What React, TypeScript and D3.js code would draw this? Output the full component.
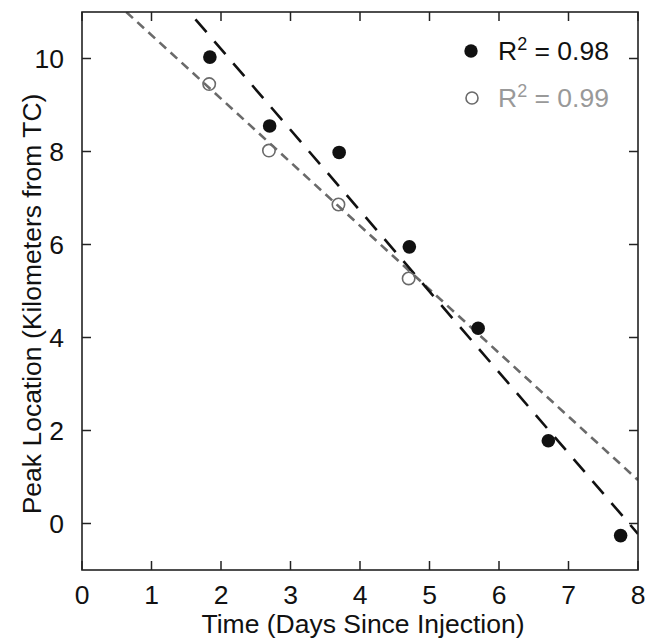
import React from "react";
import * as d3 from "d3";

const filledX = [1.84, 2.7, 3.7, 4.71, 5.7, 6.71, 7.75];
const filledY = [10.03, 8.55, 7.98, 5.95, 4.2, 1.78, -0.26];
const openX = [1.83, 2.69, 3.69, 4.7];
const openY = [9.45, 8.02, 6.86, 5.27];
const fitSlopes = [-1.738, -1.367];
const fitIntercepts = [13.68, 11.87];
const xTicks = [0, 1, 2, 3, 4, 5, 6, 7, 8];
const yTicks = [0, 2, 4, 6, 8, 10];
const legendValues = ["0.98", "0.99"];

const W = 660;
const H = 639;
const L = 82, R = 638, T = 12, B = 570;
const FONT = "'Liberation Sans', Arial, Helvetica, sans-serif";

export default function App() {
  const x = d3.scaleLinear().domain([0, 8]).range([L, R]);
  const y = d3.scaleLinear().domain([-1, 11]).range([B, T]);
  const tick = 9;
  const fs = 26.5;

  const lineGen = d3
    .line<number>()
    .x((d) => x(d))
    .y((d) => 0);

  const fitPath = (i: number) => {
    const xs = [0, 8];
    return d3
      .line<number>()
      .x((d) => x(d))
      .y((d) => y(fitIntercepts[i] + fitSlopes[i] * d))(xs) as string;
  };
  void lineGen;

  const filled = filledX.map((v, i) => [v, filledY[i]]);
  const open = openX.map((v, i) => [v, openY[i]]);

  return (
    <svg
      width={W}
      height={H}
      style={{ position: "absolute", left: 0, top: 0, background: "#fff" }}
      fontFamily={FONT}
    >
      <defs>
        <clipPath id="plotclip">
          <rect x={L} y={T} width={R - L} height={B - T} />
        </clipPath>
      </defs>
      <rect x={0} y={0} width={W} height={H} fill="#fff" />

      {/* fit lines */}
      <g clipPath="url(#plotclip)">
        <path
          d={fitPath(1)}
          fill="none"
          stroke="#6a6a6a"
          strokeWidth={2.6}
          strokeDasharray="9 6"
        />
        <path
          d={fitPath(0)}
          fill="none"
          stroke="#111"
          strokeWidth={2.6}
          strokeDasharray="17 12"
        />
      </g>

      {/* points */}
      {open.map(([a, b], i) => (
        <circle
          key={"o" + i}
          cx={x(a)}
          cy={y(b)}
          r={6.2}
          fill="none"
          stroke="#6a6a6a"
          strokeWidth={1.6}
        />
      ))}
      {filled.map(([a, b], i) => (
        <circle key={"f" + i} cx={x(a)} cy={y(b)} r={6.8} fill="#111" />
      ))}

      {/* frame */}
      <rect
        x={L}
        y={T}
        width={R - L}
        height={B - T}
        fill="none"
        stroke="#222"
        strokeWidth={1.6}
      />

      {/* x ticks */}
      {xTicks.map((t) => (
        <g key={"xt" + t}>
          <line x1={x(t)} x2={x(t)} y1={B} y2={B - tick} stroke="#222" strokeWidth={1.5} />
          <line x1={x(t)} x2={x(t)} y1={T} y2={T + tick} stroke="#222" strokeWidth={1.5} />
          <text
            x={x(t)}
            y={604}
            textAnchor="middle"
            fontSize={fs}
            fill="#111"
          >
            {t}
          </text>
        </g>
      ))}

      {/* y ticks */}
      {yTicks.map((t) => (
        <g key={"yt" + t}>
          <line x1={L} x2={L + tick} y1={y(t)} y2={y(t)} stroke="#222" strokeWidth={1.5} />
          <line x1={R} x2={R - tick} y1={y(t)} y2={y(t)} stroke="#222" strokeWidth={1.5} />
          <text
            x={64}
            y={y(t) + 9.5}
            textAnchor="end"
            fontSize={fs}
            fill="#111"
          >
            {t}
          </text>
        </g>
      ))}

      {/* axis titles */}
      <text
        x={(L + R) / 2 + 3}
        y={633}
        textAnchor="middle"
        fontSize={fs}
        fill="#111"
      >
        Time (Days Since Injection)
      </text>
      <text
        transform={`translate(40.5, 304) rotate(-90)`}
        textAnchor="middle"
        fontSize={fs}
        fill="#111"
      >
        Peak Location (Kilometers from TC)
      </text>

      {/* legend */}
      <circle cx={471} cy={51} r={6.7} fill="#111" />
      <text x={498} y={59.5} fontSize={fs} fill="#111">
        R<tspan dy={-10} fontSize={18}>2</tspan>
        <tspan dy={10}> = {legendValues[0]}</tspan>
      </text>
      <circle cx={472} cy={98} r={6} fill="none" stroke="#6a6a6a" strokeWidth={1.6} />
      <text x={498} y={107} fontSize={fs} fill="#999">
        R<tspan dy={-10} fontSize={18}>2</tspan>
        <tspan dy={10}> = {legendValues[1]}</tspan>
      </text>
    </svg>
  );
}
